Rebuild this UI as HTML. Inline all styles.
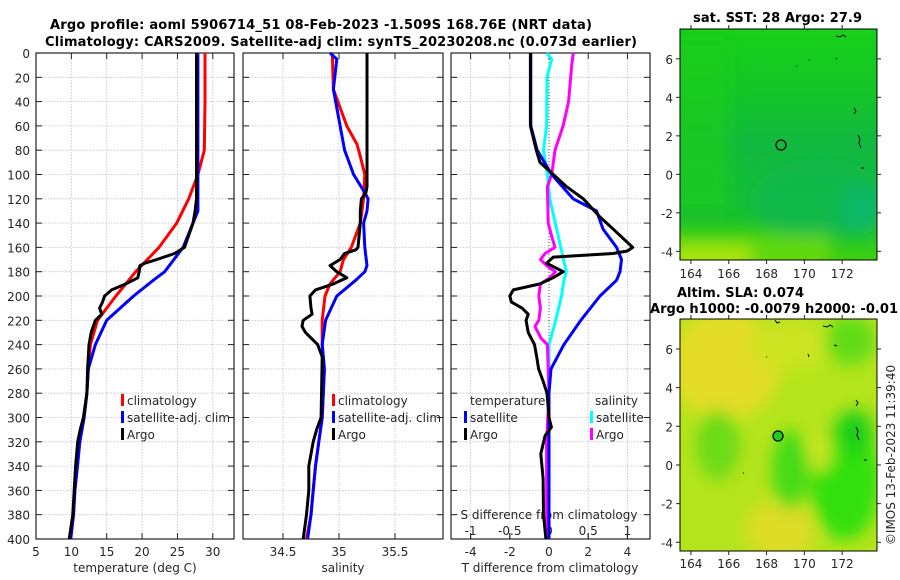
<!DOCTYPE html>
<html><head><meta charset="utf-8"><style>
body{margin:0;background:#fff;}
svg{display:block;font-family:"DejaVu Sans","Liberation Sans",sans-serif;}
.tk{font-size:12px;fill:#262626;}
.tt{font-size:13px;font-weight:bold;fill:#000;}
.lg{font-size:12px;fill:#262626;}
</style></head><body>
<svg id="fig" width="900" height="580" viewBox="0 0 900 580">
<defs>
<filter id="bl" x="-50%" y="-50%" width="200%" height="200%"><feGaussianBlur stdDeviation="8"/></filter>
<clipPath id="cm1"><rect x="680" y="29" width="197" height="231"/></clipPath>
<clipPath id="cm2"><rect x="680" y="319" width="197" height="232"/></clipPath>
<linearGradient id="g1" x1="0" y1="0" x2="0" y2="1"><stop offset="0" stop-color="#18d018"/><stop offset="0.3" stop-color="#14c42a"/><stop offset="0.5" stop-color="#12b840"/><stop offset="0.8" stop-color="#16c030"/><stop offset="1" stop-color="#3cd010"/></linearGradient>
</defs>
<text class="tt" x="50" y="29" textLength="542">Argo profile: aoml 5906714_51 08-Feb-2023 -1.509S 168.76E (NRT data)</text>
<text class="tt" x="45" y="46" textLength="592">Climatology: CARS2009. Satellite-adj clim: synTS_20230208.nc (0.073d earlier)</text>
<g id="panels"></g>

<g>
<text class="tt" x="693" y="22" textLength="169">sat. SST: 28 Argo: 27.9</text>
<g clip-path="url(#cm1)">
<rect x="680" y="29" width="197" height="231" fill="url(#g1)"/>
<g filter="url(#bl)">
<ellipse cx="820" cy="200" rx="70" ry="40" fill="#10b850" opacity="0.8"/>
<ellipse cx="860" cy="210" rx="20" ry="25" fill="#0cb868"/>
<rect x="670" y="40" width="60" height="170" fill="#20cc18" opacity="0.7"/>
<rect x="670" y="235" width="160" height="40" fill="#60d810"/>
<rect x="670" y="245" width="80" height="30" fill="#a8e410"/>
</g>
</g>
<rect x="680" y="29" width="197" height="231" fill="none" stroke="#000" stroke-width="1"/>
<circle cx="781" cy="145" r="5" fill="none" stroke="#000" stroke-width="1.2"/>
<path d="M836,36 l4,1 l3,-2 l3,2 M836,58 l1,1 M809,60 l1,0 M796,66 l1,0 M854,108 l2,3 l-2,3 M858,135 l2,4 l-1,4 l2,5 M861,168 l3,0" stroke="#000" fill="none" stroke-width="1"/>
</g>

<g>
<text class="tt" x="677" y="297" textLength="127">Altim. SLA: 0.074</text>
<text class="tt" x="650" y="313" textLength="248">Argo h1000: -0.0079 h2000: -0.01</text>
<g clip-path="url(#cm2)">
<rect x="680" y="319" width="197" height="232" fill="#b4e41c"/>
<g filter="url(#bl)">
<ellipse cx="725" cy="365" rx="55" ry="55" fill="#e4dc28"/>
<ellipse cx="790" cy="345" rx="40" ry="25" fill="#cce424"/>
<ellipse cx="780" cy="530" rx="35" ry="30" fill="#dedc28"/>
<ellipse cx="718" cy="445" rx="22" ry="35" fill="#6cdc16"/>
<ellipse cx="790" cy="470" rx="18" ry="40" fill="#44dc12"/>
<ellipse cx="845" cy="480" rx="35" ry="60" fill="#30e00c"/>
<ellipse cx="855" cy="432" rx="18" ry="22" fill="#1cd014"/>
<ellipse cx="850" cy="340" rx="25" ry="25" fill="#60dc16"/>
<ellipse cx="820" cy="450" rx="12" ry="22" fill="#c8e424"/>
</g>
</g>
<rect x="680" y="319" width="197" height="232" fill="none" stroke="#000" stroke-width="1"/>
<circle cx="778" cy="436" r="5" fill="#20cc20" stroke="#000" stroke-width="1.2"/>
<path d="M775,320 l2,3 l3,-1 M823,326 l4,1 l3,-2 l3,2 M834,345 l3,1 M808,354 l1,3 M766,357 l1,0 M856,400 l2,3 l-2,3 M856,427 l2,4 l-1,4 l2,5 M864,460 l3,0 M743,473 l1,0" stroke="#000" fill="none" stroke-width="1"/>
<text class="tk" transform="translate(895,455) rotate(-90)" text-anchor="middle">©IMOS 13-Feb-2023 11:39:40</text>
</g>
<g id="mapaxes"></g>
</svg>
<script>
// ---- data ----
const tempClimDepth = [0,40,80,100,120,140,160,180,200,220,240,260,280,300,320,340,360,380,400];
const tempClim = [28.9,28.9,28.8,27.9,26.6,24.9,22.4,19.1,16.3,13.7,12.7,12.4,12.2,11.8,11.2,10.85,10.5,10.3,9.9];
const tempSatDepth = [0,130,140,160,180,187,200,220,240,260,280,300,320,340,360,380,400];
const tempSat = [27.9,27.9,27.2,25.8,23.2,21.6,18.8,15.0,13.4,12.4,12.2,11.8,11.2,10.85,10.5,10.3,9.9];
const tempArgoDepth = [0,120,130,140,160,165,170,173,175,180,185,190,195,200,205,210,215,220,230,240,260,280,300,310,320,340,360,380,400];
const tempArgo = [27.7,27.7,27.5,27.2,26.0,24.6,22.1,20.4,19.7,19.6,19.4,17.7,15.7,14.7,14.4,14.0,14.3,13.4,12.8,12.5,12.3,12.2,11.7,11.25,10.9,10.6,10.4,10.2,9.7];

const salClimDepth = [0,30,60,75,85,100,120,140,160,170,180,190,200,220,240,260,300,320,340,360,380,400];
const salClim = [34.94,34.95,35.07,35.16,35.19,35.23,35.22,35.19,35.11,35.04,35.01,34.92,34.875,34.85,34.85,34.87,34.85,34.82,34.79,34.77,34.75,34.71];
const salSatDepth = [0,5,30,50,80,100,115,120,130,140,160,175,180,187,200,220,240,260,300,320,340,360,380,400];
const salSat = [34.92,34.98,34.95,34.99,35.05,35.13,35.23,35.26,35.25,35.22,35.23,35.25,35.23,35.15,34.98,34.88,34.85,34.87,34.85,34.82,34.79,34.77,34.75,34.72];
const salArgoDepth = [0,110,115,120,130,140,160,162,165,170,175,180,185,190,195,200,210,215,220,225,230,240,250,300,310,320,340,360,380,400];
const salArgo = [35.25,35.25,35.24,35.20,35.19,35.19,35.17,35.15,35.05,35.01,34.92,34.98,35.07,34.95,34.79,34.74,34.75,34.76,34.68,34.67,34.70,34.81,34.85,34.84,34.80,34.77,34.73,34.73,34.71,34.68];

const dTSatDepth = [0,60,80,100,120,130,145,160,170,180,187,200,220,240,260,280,400];
const dTSat = [-0.93,-0.93,-0.6,0.14,1.23,2.43,2.76,3.45,3.7,3.62,3.45,2.6,1.62,0.76,0.1,0.0,0.0];
const dTArgoDepth = [0,60,80,90,100,110,120,135,145,160,163,165,168,173,180,185,190,195,200,205,210,215,220,230,240,250,260,270,280,300,308,315,330,350,380,400];
const dTArgo = [-0.95,-0.95,-0.65,-0.46,0.22,0.9,1.75,2.6,3.28,4.27,4.0,3.27,0.22,-0.12,0.73,0.2,-0.46,-1.82,-2.0,-1.92,-1.38,-1.06,-1.17,-1.06,-0.74,-0.63,-0.53,-0.3,-0.1,0.0,0.12,-0.2,-0.42,-0.3,-0.28,-0.16];
const dSSatDepth = [0,5,20,60,80,100,120,140,160,180,187,200,220,240,260,400];
const dSSat = [-0.03,0.035,-0.025,-0.03,-0.07,-0.02,0.01,0.08,0.15,0.22,0.19,0.16,0.085,0.0,0.0,0.0];
const dSArgoDepth = [0,10,40,60,80,100,110,140,150,160,165,170,175,180,185,190,200,210,220,225,235,240,260,280,320,400];
const dSArgo = [0.31,0.29,0.25,0.18,0.077,0.034,-0.02,-0.01,0.03,0.077,-0.05,-0.11,-0.03,0.08,0.01,-0.11,-0.13,-0.11,-0.13,-0.18,-0.1,-0.02,-0.01,0.0,-0.03,-0.03];

const depthTicks = [0,20,40,60,80,100,120,140,160,180,200,220,240,260,280,300,320,340,360,380,400];
const tempTicks = [5,10,15,20,25,30];
const salTicks = [34.5,35,35.5];
const dTTicks = [-4,-2,0,2,4];
const dSTicks = [-1,-0.5,0,0.5,1];
const dSTickLabels = ["-1","-0.5","0","0.5","1"];
const lonTicks = [164,166,168,170,172];
const latTicks = [-4,-2,0,2,4,6];

// ---- axes ----
const NS='http://www.w3.org/2000/svg';
const Y0=53, Y1=539;
const yD = d => Y0 + (d/400)*(Y1-Y0);
const xT = t => 36 + (t-5)*(234-36)/28;
const xS = s => 339 + (s-35)*112;
const xDT = t => 549 + t*19.6;
const xDS = s => 549 + s*78.4;
const panels = [{x0:36,x1:234},{x0:243,x1:443},{x0:451,x1:650}];
const root = document.getElementById('panels');
function mk(tag, attrs, parent){const e=document.createElementNS(NS,tag);for(const k in attrs)e.setAttribute(k,attrs[k]);(parent||root).appendChild(e);return e;}
function line(depths, vals, fx, color, name, w){
  const d = depths.map((dp,i)=>(i?'L':'M')+fx(vals[i]).toFixed(1)+','+yD(dp).toFixed(1)).join('');
  const p = mk('path',{d:d,fill:'none',stroke:color,'stroke-width':w||3,'stroke-linejoin':'round'});
  
  
}
panels.forEach((p,pi)=>{
  const g = mk('g',{});
  
  
  depthTicks.forEach(d=>{
    mk('line',{x1:p.x0,x2:p.x1,y1:yD(d),y2:yD(d),stroke:'#b8bfd8','stroke-width':0.8,'stroke-dasharray':'1.5,1.5'},g);
    mk('line',{x1:p.x0,x2:p.x0+6,y1:yD(d),y2:yD(d),stroke:'#222','stroke-width':1},g);
    mk('line',{x1:p.x1-6,x2:p.x1,y1:yD(d),y2:yD(d),stroke:'#222','stroke-width':1},g);
  });
  const [ticks,fx] = pi==0?[tempTicks,xT]:pi==1?[salTicks,xS]:[dTTicks,xDT];
  ticks.forEach(t=>{
    const x=fx(t);
    if(x>p.x0+1) mk('line',{x1:x,x2:x,y1:Y0,y2:Y1,stroke:'#b8bfd8','stroke-width':0.8,'stroke-dasharray':'1.5,1.5'},g);
    mk('line',{x1:x,x2:x,y1:Y1,y2:Y1-6,stroke:'#222'},g);
    mk('line',{x1:x,x2:x,y1:Y0,y2:Y0+6,stroke:'#222'},g);
    const tx = mk('text',{x:x,y:Y1+17,'text-anchor':'middle',class:'tk'},g);
    tx.textContent = t;
    
    
  });
  mk('rect',{x:p.x0,y:Y0,width:p.x1-p.x0,height:Y1-Y0,fill:'none',stroke:'#222','stroke-width':1.2},g);
});
depthTicks.forEach(d=>{
  const t=mk('text',{x:30,y:yD(d)+5,'text-anchor':'end',class:'tk'});
  t.textContent=d;
  
  
});
mk('line',{x1:549,x2:549,y1:Y0,y2:Y1,stroke:'#555','stroke-width':1,'stroke-dasharray':'1,2'});
[['temperature (deg C)',135,'temperature-axis-title'],['salinity',343,'salinity-axis-title'],['T difference from climatology',550,'t-diff-axis-title']].forEach(a=>{
  const t=mk('text',{x:a[1],y:572,'text-anchor':'middle',class:'tk'});t.textContent=a[0];
  
  
});
const st=mk('text',{x:549,y:519,'text-anchor':'middle',class:'tk'});st.textContent='S difference from climatology';


dSTicks.forEach((s,i)=>{
  const x=xDS(s);
  mk('line',{x1:x,x2:x,y1:Y1,y2:Y1-6,stroke:'#222'});
  const t=mk('text',{x:x,y:535,'text-anchor':'middle',class:'tk'});t.textContent=dSTickLabels[i];
  
  
});
line(tempClimDepth,tempClim,xT,'#ff0000','temp-climatology-line');
line(tempSatDepth,tempSat,xT,'#0000ff','temp-satellite-line');
line(tempArgoDepth,tempArgo,xT,'#000000','temp-argo-line');
line(salClimDepth,salClim,xS,'#ff0000','salinity-climatology-line');
line(salSatDepth,salSat,xS,'#0000ff','salinity-satellite-line');
line(salArgoDepth,salArgo,xS,'#000000','salinity-argo-line');
line(dSSatDepth,dSSat,xDS,'#00ffff','s-diff-satellite-line');
line(dSArgoDepth,dSArgo,xDS,'#ff00ff','s-diff-argo-line');
line(dTSatDepth,dTSat,xDT,'#0000ff','t-diff-satellite-line');
line(dTArgoDepth,dTArgo,xDT,'#000000','t-diff-argo-line');
function leg(x,y,color,label,name){
  if(color) mk('rect',{x:x,y:y-11,width:3,height:12,fill:color});
  const t=mk('text',{x:x+(color?6:0),y:y,class:'lg'});t.textContent=label;
  
  
}
leg(121,405,'#ff0000','climatology','legend-climatology');
leg(121,422,'#0000ff','satellite-adj. clim','legend-satellite-adj');
leg(121,439,'#000000','Argo','legend-argo');
leg(332,405,'#ff0000','climatology','legend-climatology-2');
leg(332,422,'#0000ff','satellite-adj. clim','legend-satellite-adj-2');
leg(332,439,'#000000','Argo','legend-argo-2');
leg(470,405,null,'temperature','legend-temperature-header');
leg(464,422,'#0000ff','satellite','legend-t-satellite');
leg(464,439,'#000000','Argo','legend-t-argo');
leg(595,405,null,'salinity','legend-salinity-header');
leg(590,422,'#00ffff','satellite','legend-s-satellite');
leg(590,439,'#ff00ff','Argo','legend-s-argo');
const ma=document.getElementById('mapaxes');
const xLon = l => 680 + (l-163.42)*18.9;
[[29,260,7.55,-4.45,278],[319,551,7.55,-4.45,568]].forEach((m,mi)=>{
  const yLat = v => m[0] + (m[2]-v)*(m[1]-m[0])/(m[2]-m[3]);
  lonTicks.forEach(l=>{
    const x=xLon(l);
    mk('line',{x1:x,x2:x,y1:m[1],y2:m[1]+4,stroke:'#222'},ma);
    mk('line',{x1:x,x2:x,y1:m[0],y2:m[0]-4,stroke:'#222'},ma);
    const t=mk('text',{x:x,y:m[4],'text-anchor':'middle',class:'tk'},ma);t.textContent=l;
    
    
  });
  latTicks.forEach(v=>{
    const y=yLat(v);
    mk('line',{x1:676,x2:680,y1:y,y2:y,stroke:'#222'},ma);
    mk('line',{x1:877,x2:881,y1:y,y2:y,stroke:'#222'},ma);
    const t=mk('text',{x:673,y:y+5,'text-anchor':'end',class:'tk'},ma);t.textContent=v;
    
    
  });
});
</script>
</body></html>
